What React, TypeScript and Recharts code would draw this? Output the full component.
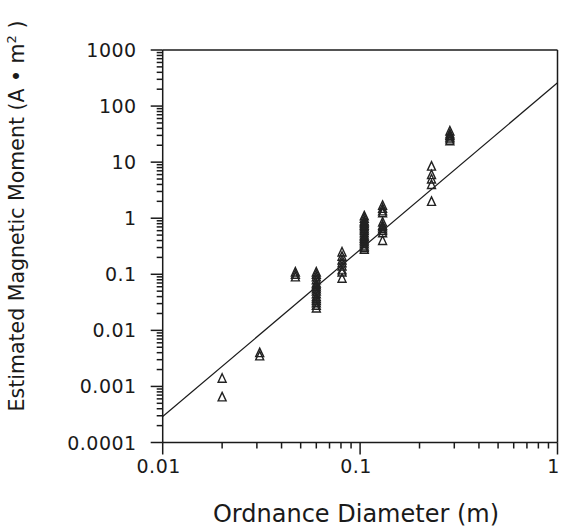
import { Label, ReferenceLine, Scatter, ScatterChart, XAxis, YAxis } from "recharts";

// ordnance diameter (m) of each group and the moments read for it (A·m²)
const diameters = [0.02, 0.031, 0.047, 0.06, 0.081, 0.105, 0.13, 0.23, 0.285];
const m020 = [0.0014, 0.00065];
const m031 = [0.0035, 0.004];
const m047 = [0.09, 0.1, 0.11];
const m060 = [0.11, 0.1, 0.09, 0.08, 0.07, 0.065, 0.06, 0.055, 0.05, 0.045, 0.04, 0.037, 0.034, 0.031, 0.028, 0.025];
const m081 = [0.25, 0.21, 0.18, 0.16, 0.14, 0.12, 0.11, 0.085];
const m105 = [1.1, 1.0, 0.9, 0.85, 0.8, 0.75, 0.7, 0.65, 0.6, 0.55, 0.5, 0.47, 0.44, 0.41, 0.38, 0.35, 0.32, 0.3, 0.28];
const m130 = [1.7, 1.5, 1.35, 1.25, 0.85, 0.75, 0.7, 0.65, 0.6, 0.55, 0.4];
const m230 = [8.5, 6, 5, 4, 2];
const m285 = [36, 32, 30, 28, 26, 24];
const moments = [m020, m031, m047, m060, m081, m105, m130, m230, m285];

// fitted power law, end points
const fitX = [0.01, 1];
const fitY = [0.00029, 260];

const xMajor = [0.01, 0.1, 1];
const xLabels = ["0.01", "0.1", "1"];
const yMajor = [0.0001, 0.001, 0.01, 0.1, 1, 10, 100, 1000];
const yLabels = ["0.0001", "0.001", "0.01", "0.1", "1", "10", "100", "1000"];

const points = diameters.flatMap((d, i) => moments[i].map((m) => ({ x: d, y: m })));
const fit = fitX.map((x, i) => ({ x, y: fitY[i] }));

const minors = (majors: number[]) =>
  majors.slice(0, -1).flatMap((m) => [2, 3, 4, 5, 6, 7, 8, 9].map((k) => k * m));
const xTicks = [...xMajor, ...minors(xMajor)];
const yTicks = [...yMajor, ...minors(yMajor)];

const INK = "#1a1a1a";
const FONT = "'DejaVu Sans', sans-serif";

const isMajor = (v: number) => Math.abs(Math.log10(v) - Math.round(Math.log10(v))) < 1e-9;
const labelOf = (v: number, majors: number[], labels: string[]) => {
  const i = majors.findIndex((m) => Math.abs(Math.log10(m) - Math.log10(v)) < 1e-9);
  return i >= 0 ? labels[i] : "";
};

function XTick({ x, y, payload }: any) {
  const major = isMajor(payload.value);
  return (
    <g>
      <line x1={x} x2={x} y1={y} y2={y + (major ? 12 : 6)} stroke={INK} strokeWidth={1.5} />
      {major && (
        <text x={x - 4} y={y + 30} textAnchor="middle" fontSize={19} fontFamily={FONT} fill={INK} letterSpacing={0.5}>
          {labelOf(payload.value, xMajor, xLabels)}
        </text>
      )}
    </g>
  );
}

function YTick({ x, y, payload }: any) {
  const major = isMajor(payload.value);
  return (
    <g>
      <line x1={x} x2={x - (major ? 12 : 6)} y1={y} y2={y} stroke={INK} strokeWidth={1.5} />
      {major && (
        <text x={x - 26} y={y + 7} textAnchor="end" fontSize={19} fontFamily={FONT} fill={INK} letterSpacing={0.5}>
          {labelOf(payload.value, yMajor, yLabels)}
        </text>
      )}
    </g>
  );
}

function Tri({ cx, cy }: any) {
  return <path d={`M${cx},${cy - 4.5}L${cx + 4},${cy + 4}L${cx - 4},${cy + 4}Z`} fill="none" stroke="#222" strokeWidth={1.4} />;
}

export default function App() {
  return (
    <div style={{ position: "absolute", left: 0, top: 0, background: "#fff" }}>
      <ScatterChart width={561} height={527} margin={{ top: 50, right: 3.5, bottom: 54.5, left: 102.7 }}>
        <XAxis
          type="number" dataKey="x" scale="log" domain={[0.01, 1]} allowDataOverflow
          ticks={xTicks} interval={0} tickLine={false} tickSize={0} tickMargin={0} tick={<XTick />}
          axisLine={{ stroke: INK, strokeWidth: 1.5 }} height={30}
        >
          <Label
            content={() => (
              <text x={356} y={522} textAnchor="middle" fontSize={24} fontFamily={FONT} fill={INK}>
                Ordnance Diameter (m)
              </text>
            )}
          />
        </XAxis>
        <YAxis
          type="number" dataKey="y" scale="log" domain={[0.0001, 1000]} allowDataOverflow
          ticks={yTicks} interval={0} tickLine={false} tickSize={0} tickMargin={0} tick={<YTick />}
          axisLine={{ stroke: INK, strokeWidth: 1.5 }} width={60}
        >
          <Label
            content={() => (
              <text transform="translate(24,216) rotate(-90)" textAnchor="middle" fontSize={20.5} fontFamily={FONT} fill={INK}>
                Estimated Magnetic Moment (A • m
                <tspan dy={-8} fontSize={13}>2</tspan>
                <tspan dy={8}> )</tspan>
              </text>
            )}
          />
        </YAxis>
        <ReferenceLine y={1000} stroke={INK} strokeWidth={1.5} />
        <ReferenceLine x={1} stroke={INK} strokeWidth={1.5} />
        <Scatter data={fit} line={{ stroke: INK, strokeWidth: 1.2 }} shape={() => <g />} isAnimationActive={false} />
        <Scatter data={points} shape={<Tri />} isAnimationActive={false} />
      </ScatterChart>
    </div>
  );
}
